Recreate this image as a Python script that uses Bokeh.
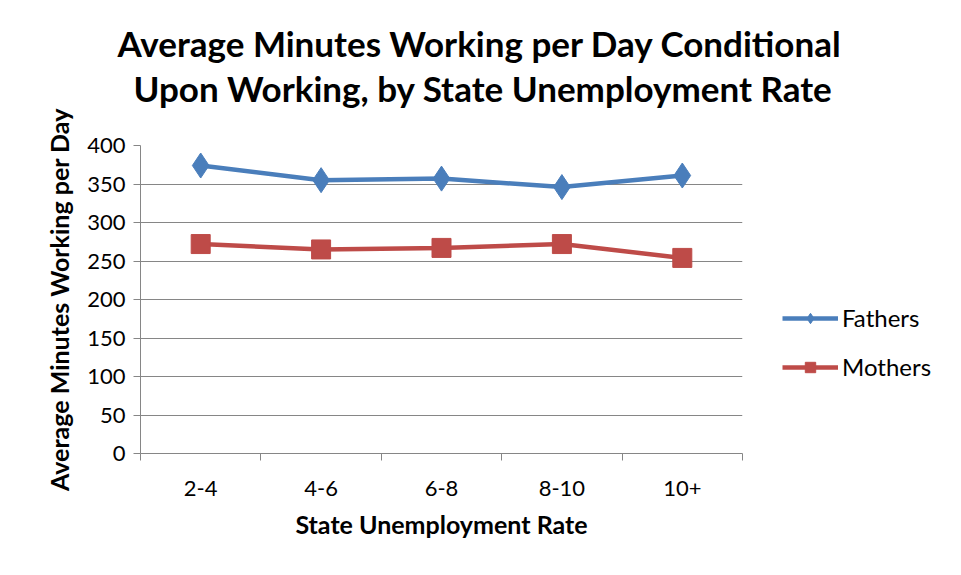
from bokeh.plotting import figure
from bokeh.models import FixedTicker, Range1d, Legend, LegendItem, Title, LinearAxis
from bokeh.embed import file_html
from bokeh.resources import INLINE

categories = ["2-4", "4-6", "6-8", "8-10", "10+"]
fathers = [374, 355, 357, 346, 361]
mothers = [272, 265, 267, 272, 254]
y_ticks = [0, 50, 100, 150, 200, 250, 300, 350, 400]

title_line1 = "Average Minutes Working per Day  Conditional"
title_line2 = "Upon Working, by State Unemployment Rate"

xs = [i + 0.5 for i in range(len(categories))]

FONT = "Lato"
GRID = "#868686"

p = figure(frame_width=602, frame_height=308, output_backend="svg", toolbar_location=None,
           x_range=Range1d(0, len(categories)), y_range=Range1d(0, 400),
           min_border_left=140, min_border_right=203, min_border_top=145,
           min_border_bottom=106, title=None)
p.outline_line_color = None
p.background_fill_color = "white"
p.border_fill_color = "white"

# y axis
yax = p.left[0]
yax.ticker = FixedTicker(ticks=y_ticks)
yax.axis_line_color = GRID
yax.major_tick_line_color = GRID
yax.major_tick_out = 7
yax.major_tick_in = 0
yax.minor_tick_line_color = None
yax.major_label_standoff = 8
yax.major_label_text_font = FONT
yax.major_label_text_font_size = "22px"
yax.major_label_text_color = "black"
yax.axis_label = "Average Minutes Working per Day"
yax.axis_label_text_font = FONT
yax.axis_label_text_font_size = "25px"
yax.axis_label_text_font_style = "bold"
yax.axis_label_text_color = "black"
yax.axis_label_standoff = 10

# x axis: labels at category centres, ticks at boundaries
xax = p.below[0]
xax.ticker = FixedTicker(ticks=xs, minor_ticks=list(range(len(categories) + 1)))
xax.major_label_overrides = {x: c for x, c in zip(xs, categories)}
xax.axis_line_color = GRID
xax.major_tick_line_color = None
xax.major_tick_out = 0
xax.major_tick_in = 0
xax.minor_tick_line_color = GRID
xax.minor_tick_out = 7
xax.minor_tick_in = 0
xax.major_label_standoff = 20
xax.major_label_text_font = FONT
xax.major_label_text_font_size = "22px"
xax.major_label_text_color = "black"
xax.axis_label = "State Unemployment Rate"
xax.axis_label_text_font = FONT
xax.axis_label_text_font_size = "25px"
xax.axis_label_text_font_style = "bold"
xax.axis_label_text_color = "black"
xax.axis_label_standoff = 10

p.xgrid.grid_line_color = None
p.ygrid.ticker = FixedTicker(ticks=y_ticks)
p.ygrid.grid_line_color = GRID
p.ygrid.grid_line_width = 1

# invisible spacer between the frame and the title lines (one white tick, empty label)
spacer = LinearAxis(ticker=FixedTicker(ticks=[0], minor_ticks=[]), axis_line_color=None,
                    major_tick_line_color="white", minor_tick_line_color=None,
                    major_tick_out=36, major_tick_in=0, minor_tick_out=0,
                    major_label_standoff=0, major_label_overrides={0: ""})
p.add_layout(spacer, "above")

t2 = Title(text=title_line2, align="left", offset=-7, standoff=2,
           text_font=FONT, text_font_size="35px", text_font_style="bold",
           text_color="black")
t1 = Title(text=title_line1, align="left", offset=-23, standoff=0,
           text_font=FONT, text_font_size="35px", text_font_style="bold",
           text_color="black")
p.add_layout(t2, "above")
p.add_layout(t1, "above")

BLUE = "#4A7EBB"
RED = "#BE4B48"

fl = p.line(xs, fathers, line_color=BLUE, line_width=4.5)
fm = p.scatter(xs, fathers, marker="diamond", size=25, fill_color=BLUE, line_color=BLUE)
ml = p.line(xs, mothers, line_color=RED, line_width=4.5)
mm = p.scatter(xs, mothers, marker="square", size=19, fill_color=RED, line_color=RED)

legend = Legend(items=[LegendItem(label="Fathers", renderers=[fl, fm]),
                       LegendItem(label="Mothers", renderers=[ml, mm])],
                location=(40, 72), orientation="vertical")
legend.border_line_color = None
legend.background_fill_alpha = 0
legend.padding = 0
legend.margin = 0
legend.spacing = 20
legend.glyph_width = 56
legend.glyph_height = 26
legend.label_height = 26
legend.label_standoff = 4
legend.label_text_font = FONT
legend.label_text_font_size = "24px"
legend.label_text_color = "black"
p.add_layout(legend, "right")

open("out.html", "w").write(file_html(p, INLINE))
